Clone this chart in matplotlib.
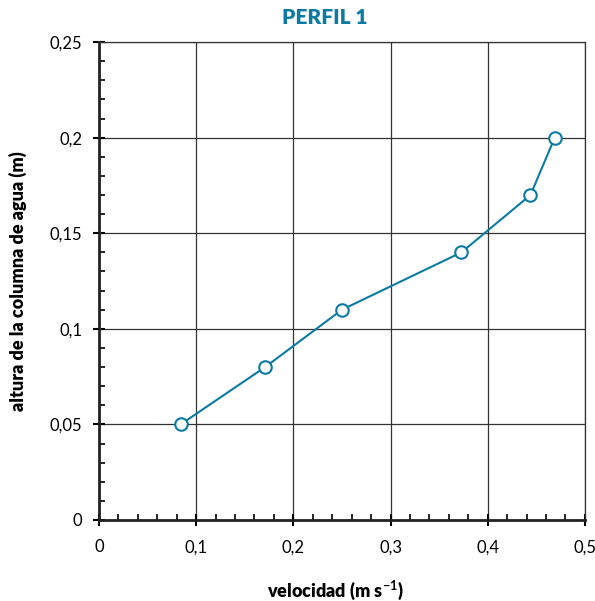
import matplotlib.pyplot as plt
from matplotlib.ticker import MultipleLocator, FuncFormatter

velocidad = [0.084, 0.171, 0.250, 0.373, 0.444, 0.469]
altura = [0.05, 0.08, 0.11, 0.14, 0.17, 0.20]

color = "#0b7ba3"

plt.rcParams["font.family"] = ["Lato", "DejaVu Sans"]
plt.rcParams["mathtext.fontset"] = "custom"
plt.rcParams["mathtext.bf"] = "Lato:bold"
plt.rcParams["mathtext.rm"] = "Lato:bold"

fig = plt.figure(figsize=(5.95, 6.01), dpi=100)
ax = fig.add_axes([0.1664, 0.1348, 0.8166, 0.7952])

ax.plot(velocidad, altura, color=color, lw=1.5, marker="o", ms=9,
        mfc="white", mec=color, mew=1.5, zorder=3)

ax.set_xlim(0, 0.5)
ax.set_ylim(0, 0.25)
ax.xaxis.set_major_locator(MultipleLocator(0.1))
ax.xaxis.set_minor_locator(MultipleLocator(0.02))
ax.yaxis.set_major_locator(MultipleLocator(0.05))
ax.yaxis.set_minor_locator(MultipleLocator(0.01))

fmt = FuncFormatter(lambda v, p: "0" if abs(v) < 1e-9 else ("%g" % round(v, 3)).replace(".", ","))
ax.xaxis.set_major_formatter(fmt)
ax.yaxis.set_major_formatter(fmt)

ax.grid(True, which="major", color="#333333", lw=0.9)
ax.tick_params(which="major", direction="inout", length=8, width=1.5, labelsize=12, pad=10)
ax.tick_params(which="minor", direction="in", length=4, width=1.2)
ax.tick_params(axis="y", pad=8)

for s in ["left", "bottom"]:
    ax.spines[s].set_linewidth(2)
    ax.spines[s].set_color("#222222")
for s in ["top", "right"]:
    ax.spines[s].set_linewidth(0.9)
    ax.spines[s].set_color("#333333")

fig.text(325 / 595, 1 - 18 / 601, "PERFIL 1", color=color, fontweight="heavy",
         fontsize=15, ha="center", va="center")
fig.text(335 / 595, 1 - 590 / 601, "velocidad (m s$^{-1}$)", fontweight="heavy",
         fontsize=13, ha="center", va="center")
ax.set_ylabel("altura de la columna de agua (m)", fontweight="heavy", fontsize=13, labelpad=16)

fig.savefig("out.png", dpi=100)
